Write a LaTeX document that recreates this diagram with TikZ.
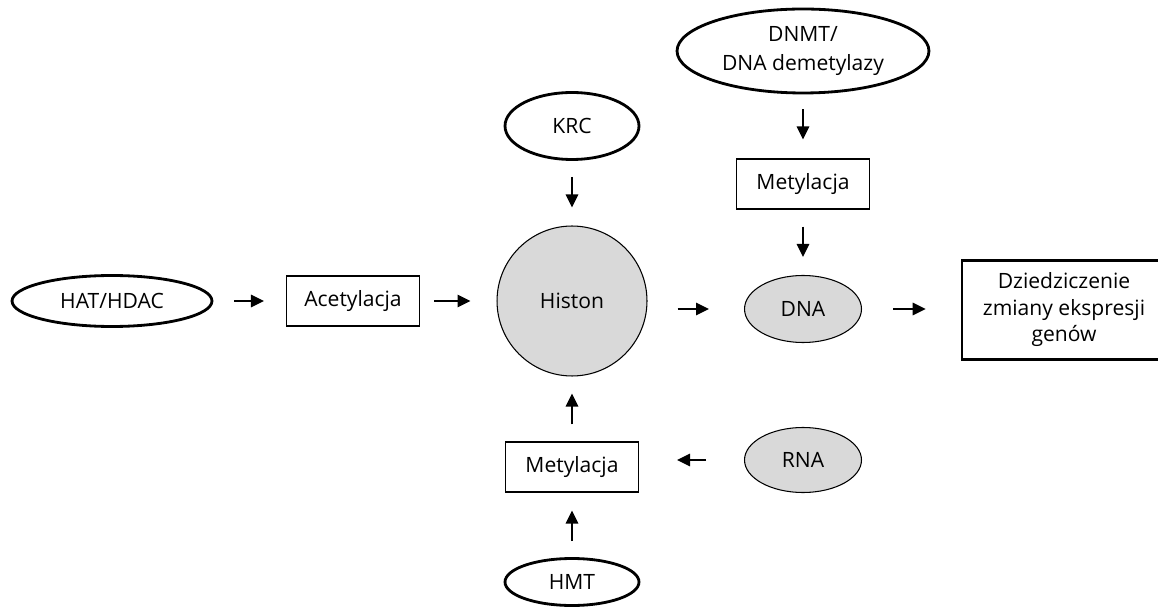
\documentclass[tikz,border=0pt]{standalone}
\usepackage{fontspec}
\setmainfont{Open Sans}
\usetikzlibrary{shapes.geometric,arrows.meta}

\definecolor{histongray}{RGB}{217,217,217}

\tikzset{
	oval/.style={ellipse, draw, line width=1.6pt, inner sep=0pt},
	ovalgray/.style={ellipse, draw, line width=0.6pt, fill=histongray, inner sep=0pt},
	stepbox/.style={rectangle, draw, line width=0.6pt, minimum width=2.66cm, minimum height=1cm},
	endbox/.style={rectangle, draw, line width=1.6pt, align=center, minimum width=4.4cm, minimum height=1.98cm},
	pfeil/.style={line width=0.8pt, -{Triangle[length=0.26cm, width=0.25cm]}}
}

\begin{document}
\begin{tikzpicture}[x=0.02cm, y=-0.02cm, font=\fontsize{12}{15}\selectfont]
	\clip (0,0) rectangle (1158,607);
	
	% inputs
	\node[oval, minimum width=4cm, minimum height=1.02cm] (hat) at (112,301) {HAT/HDAC};
	\node[oval, minimum width=2.68cm, minimum height=1.34cm] (krc) at (572,126) {KRC};
	\node[oval, align=center, minimum width=5.04cm, minimum height=1.68cm, font=\fontsize{12}{17}\selectfont] (dnmt) at (803,51) {DNMT/\\DNA demetylazy};
	\node[oval, minimum width=2.68cm, minimum height=0.94cm] (hmt) at (572,582) {HMT};
	
	% steps
	\node[stepbox] (acet) at (353,301) {Acetylacja};
	\node[stepbox] (metT) at (803,184) {Metylacja};
	\node[stepbox] (metB) at (572,467) {Metylacja};
	
	% grey ones
	\node[ovalgray, circle, minimum size=3cm] (histon) at (572,301) {Histon};
	\node[ovalgray, minimum width=2.34cm, minimum height=1.34cm] (dna) at (803,309) {DNA};
	\node[ovalgray, minimum width=2.34cm, minimum height=1.3cm] (rna) at (803,460) {RNA};
	
	% runs off the right edge
	\node[endbox] (dz) at (1072,310) {\begin{tabular}{@{}c@{}}Dziedziczenie\\zmiany ekspresji\\genów\end{tabular}\hspace{0.32cm}};
	
	
	\draw[pfeil, shorten <=0.42cm, shorten >=0.44cm] (hat) -- (acet);
	\draw[pfeil, shorten <=0.28cm, shorten >=0.52cm] (acet) -- (histon);
	\draw[pfeil, shorten <=0.6cm, shorten >=0.7cm] (histon.east |- dna.west) -- (dna.west);
	\draw[pfeil, shorten <=0.62cm, shorten >=0.7cm] (dna) -- (dz.west |- dna);
	
	\draw[pfeil, shorten <=0.3cm, shorten >=0.38cm] (dnmt) -- (metT);
	\draw[pfeil, shorten <=0.34cm, shorten >=0.36cm] (metT) -- (dna);
	\draw[pfeil, shorten <=0.32cm, shorten >=0.36cm] (krc) -- (histon);
	
	\draw[pfeil, shorten <=0.34cm, shorten >=0.34cm] (metB) -- (histon);
	\draw[pfeil, shorten <=0.32cm, shorten >=0.36cm] (hmt) -- (metB);
	\draw[pfeil, shorten <=0.76cm, shorten >=0.76cm] (rna.west) -- (metB.east |- rna.west);
	
\end{tikzpicture}
\end{document}
